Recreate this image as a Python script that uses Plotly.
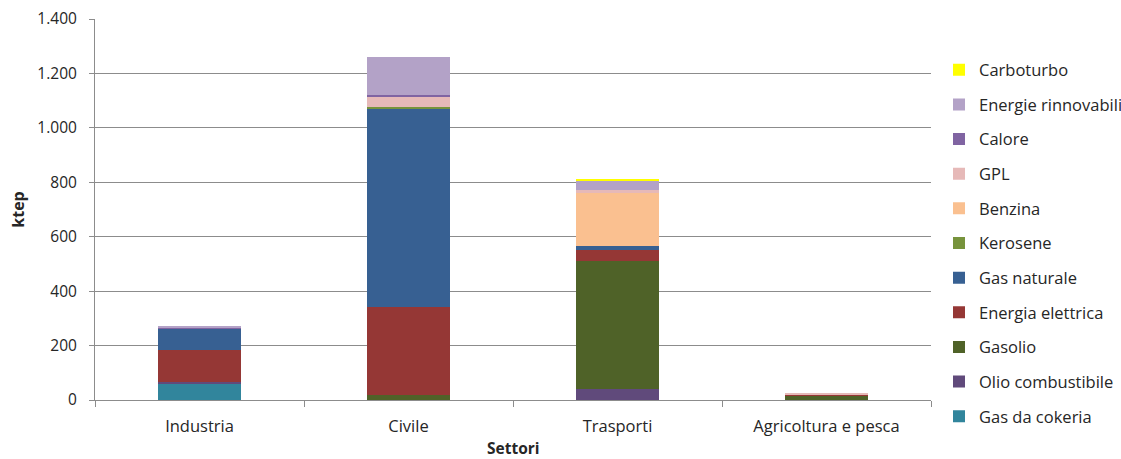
import plotly.graph_objects as go

# Sectors on the x axis
settori = ["Industria", "Civile", "Trasporti", "Agricoltura e pesca"]

# Final consumption by source (ktep), one list per energy carrier
gas_da_cokeria = [62, 0, 0, 0]
olio_combustibile = [5, 0, 42, 0]
gasolio = [0, 20, 467, 17]
energia_elettrica = [118, 320, 43, 5]
gas_naturale = [75, 730, 14, 0]
kerosene = [0, 5, 0, 0]
benzina = [0, 0, 194, 0]
gpl = [0, 37, 12, 2]
calore = [8, 8, 0, 0]
energie_rinnovabili = [3, 141, 35, 0]
carboturbo = [0, 0, 4, 0]

series = [
    ("Gas da cokeria", gas_da_cokeria, "#31859C"),
    ("Olio combustibile", olio_combustibile, "#604A7B"),
    ("Gasolio", gasolio, "#4F6228"),
    ("Energia elettrica", energia_elettrica, "#953735"),
    ("Gas naturale", gas_naturale, "#376092"),
    ("Kerosene", kerosene, "#77933C"),
    ("Benzina", benzina, "#FAC090"),
    ("GPL", gpl, "#E6B9B8"),
    ("Calore", calore, "#8064A2"),
    ("Energie rinnovabili", energie_rinnovabili, "#B3A2C7"),
    ("Carboturbo", carboturbo, "#FFFF00"),
]

fig = go.Figure()
n = len(series)
for i, (name, values, color) in enumerate(series):
    # stacked bottom-up, listed top-down in the legend
    fig.add_trace(go.Bar(
        x=settori, y=values, name=name, legendgroup=name,
        legendrank=n - i,
        marker=dict(color=color, line=dict(width=0)),
    ))

font_family = "'Open Sans', sans-serif"
grid = "#8C8C8C"

fig.update_layout(
    width=1121, height=459,
    barmode="stack", bargap=0.6,
    separators=",.",
    plot_bgcolor="white", paper_bgcolor="white",
    margin=dict(l=95, r=190, t=19, b=59, autoexpand=False),
    font=dict(family=font_family, size=15, color="#262626"),
    legend=dict(
        traceorder="grouped",
        xref="container", x=939 / 1121, xanchor="left",
        yref="container", y=1 - 243 / 459, yanchor="middle",
        font=dict(size=16.5, color="#262626"), tracegroupgap=10.2,
        itemwidth=30, maxheight=459,
    ),
    xaxis=dict(
        showline=True, linecolor=grid, linewidth=1,
        ticks="outside", tickson="boundaries", ticklen=6, tickcolor=grid,
        ticklabelstandoff=11, tickfont=dict(size=16.5),
        showgrid=False,
    ),
    yaxis=dict(
        title=dict(text="<b>ktep</b>", font=dict(size=16), standoff=8),
        range=[0, 1400], dtick=200, tickformat=",d",
        showline=True, linecolor=grid, linewidth=1,
        ticks="outside", ticklen=5, tickcolor=grid,
        ticklabelstandoff=9, tickfont=dict(size=15.5),
        showgrid=True, gridcolor=grid, gridwidth=1,
        zeroline=False,
    ),
    annotations=[dict(
        text="<b>Settori</b>", xref="paper", yref="paper",
        x=0.5, y=-48 / 381, xanchor="center", yanchor="middle",
        showarrow=False, font=dict(size=15.5), borderpad=0,
    )],
)

fig.write_html("out.html")
